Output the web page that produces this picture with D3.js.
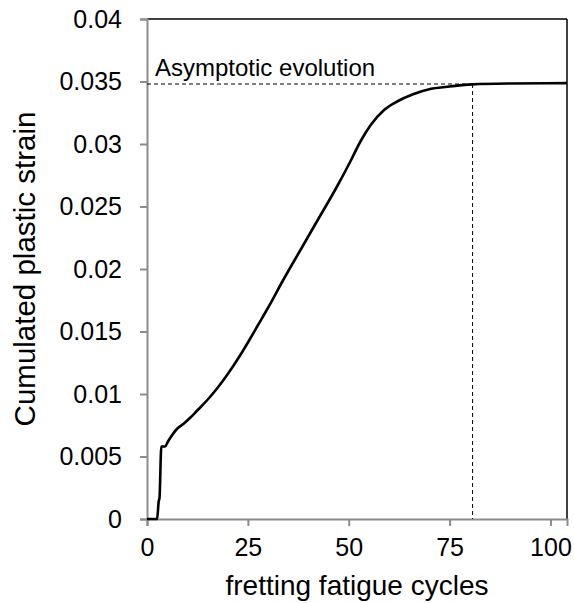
<!DOCTYPE html>
<html>
<head>
<meta charset="utf-8">
<script src="https://cdn.jsdelivr.net/npm/d3@7"></script>
<style>
  body { margin: 0; background: #fff; }
  text { font-family: "Liberation Sans", Arial, sans-serif; fill: #000; }
</style>
</head>
<body>
<svg id="chart" width="574" height="603"></svg>
<script>
// curve
var cycles = [0, 2.5, 2.9, 3.1, 3.55, 4.5, 5.2, 6.2, 7.4, 9, 10.7, 12.5, 14.9, 17.5, 19.8, 23.1, 25.7, 27.3, 30, 33.9, 38, 42.1, 47.1, 50.4, 52.9, 55.4, 58.7, 62, 66.1, 70.2, 74.4, 80.7, 90, 104.1];
var strain = [0, 0, 0.0014, 0.0017, 0.0058, 0.0058, 0.0062, 0.0067, 0.0072, 0.0076, 0.0081, 0.0087, 0.0095, 0.0105, 0.0115, 0.0131, 0.0145, 0.0154, 0.0169, 0.0192, 0.0215, 0.0238, 0.0266, 0.0286, 0.0302, 0.0315, 0.0327, 0.0334, 0.0340, 0.0344, 0.03458, 0.03477, 0.03484, 0.03487];
var xTicks = [0, 25, 50, 75, 100];
var yTicks = [0, 0.005, 0.01, 0.015, 0.02, 0.025, 0.03, 0.035, 0.04];
var asymptote = 0.0348;
var asymptoteCycle = 80.7;

var margin = { top: 19, right: 7, bottom: 84, left: 147 };
var width = 574 - margin.left - margin.right;
var height = 603 - margin.top - margin.bottom;

var svg = d3.select("#chart")
  .append("g")
  .attr("transform", "translate(" + margin.left + "," + margin.top + ")");

var x = d3.scaleLinear().domain([0, 104.1]).range([0, width]);
var y = d3.scaleLinear().domain([0, 0.04]).range([height, 0]);

// frame: top and right in black
svg.append("line")
  .attr("x1", 0).attr("x2", width).attr("y1", 0).attr("y2", 0)
  .attr("stroke", "#000").attr("stroke-width", 1.5);
svg.append("line")
  .attr("x1", width).attr("x2", width).attr("y1", 0).attr("y2", height)
  .attr("stroke", "#000").attr("stroke-width", 1.5);

var xAxis = d3.axisBottom(x).tickValues(xTicks).tickSize(7).tickPadding(12)
  .tickFormat(d3.format("d"));
var yAxis = d3.axisLeft(y).tickValues(yTicks).tickSize(7).tickPadding(18)
  .tickFormat(function(d) { return d === 0 ? "0" : d3.format("")(+d.toFixed(3)); });

var gx = svg.append("g")
  .attr("transform", "translate(0," + height + ")")
  .call(xAxis);
var gy = svg.append("g").call(yAxis);

[gx, gy].forEach(function(g) {
  g.select(".domain").attr("stroke", "#8c8c8c").attr("stroke-width", 2);
  g.selectAll(".tick line").attr("stroke", "#8c8c8c").attr("stroke-width", 2);
  g.selectAll(".tick text").style("font-size", "25px").attr("fill", "#000");
});
gx.selectAll(".tick text").attr("dy", "0.71em");

// guide lines
svg.append("line")
  .attr("x1", 0).attr("x2", x(asymptoteCycle))
  .attr("y1", y(asymptote)).attr("y2", y(asymptote))
  .attr("stroke", "#000").attr("stroke-width", 1)
  .attr("stroke-dasharray", "4,3");
svg.append("line")
  .attr("x1", x(asymptoteCycle)).attr("x2", x(asymptoteCycle))
  .attr("y1", y(asymptote)).attr("y2", height)
  .attr("stroke", "#000").attr("stroke-width", 1)
  .attr("stroke-dasharray", "4,3");

var pts = cycles.map(function(c, i) { return [c, strain[i]]; });
var line = d3.line()
  .x(function(d) { return x(d[0]); })
  .y(function(d) { return y(d[1]); })
  .curve(d3.curveMonotoneX);

svg.append("path")
  .datum(pts)
  .attr("d", line)
  .attr("fill", "none")
  .attr("stroke", "#000")
  .attr("stroke-width", 2.6)
  .attr("stroke-linejoin", "round");

svg.append("text")
  .attr("x", 8)
  .attr("y", y(asymptote) - 8)
  .style("font-size", "24px")
  .text("Asymptotic evolution");

// axis titles
svg.append("text")
  .attr("x", width / 2)
  .attr("y", height + 76)
  .style("text-anchor", "middle")
  .style("font-size", "28px")
  .text("fretting fatigue cycles");

svg.append("text")
  .attr("transform", "translate(-112," + (height / 2) + ") rotate(-90)")
  .style("text-anchor", "middle")
  .style("font-size", "29.5px")
  .text("Cumulated plastic strain");
</script>
</body>
</html>
